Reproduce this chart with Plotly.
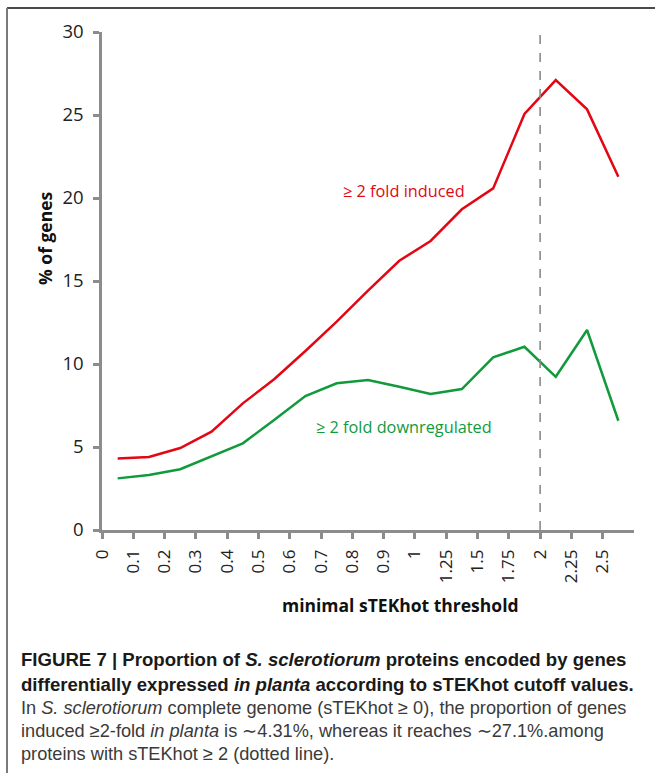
import plotly.graph_objects as go

# ---- data ----
threshold_labels = ["0", "0.1", "0.2", "0.3", "0.4", "0.5", "0.6", "0.7", "0.8", "0.9",
                    "1", "1.25", "1.5", "1.75", "2", "2.25", "2.5"]
induced = [4.31, 4.40, 4.94, 5.92, 7.63, 9.08, 10.78, 12.55, 14.42, 16.22,
           17.41, 19.32, 20.58, 25.06, 27.1, 25.34, 21.28]
downregulated = [3.11, 3.31, 3.66, 4.42, 5.22, 6.63, 8.07, 8.84, 9.04, 8.63,
                 8.19, 8.49, 10.40, 11.04, 9.23, 12.05, 6.58]
cutoff_label = "2"

# ---- layout geometry (pixels) ----
W, H = 655, 773
L, R, T, B = 102, 21, 32, 243
PW, PH = W - L - R, H - T - B


def px(x):
    return (x - L) / PW


def py(y):
    return (H - B - y) / PH


idx = list(range(len(threshold_labels)))
xpts = [i + 0.5 for i in idx]

RED = "#E30613"
GREEN = "#119A3C"
AX = "#8C8C8C"
FONT = "Open Sans"

fig = go.Figure()
fig.add_trace(go.Scatter(x=xpts, y=induced, mode="lines",
                         line=dict(color=RED, width=2.5), showlegend=False))
fig.add_trace(go.Scatter(x=xpts, y=downregulated, mode="lines",
                         line=dict(color=GREEN, width=2.5), showlegend=False))

cut_x = threshold_labels.index(cutoff_label)

shapes = [
    dict(type="line", xref="x", yref="paper", x0=cut_x, x1=cut_x, y0=0, y1=1 + 6 / PH,
         line=dict(color="#8A8A8A", width=1.6, dash="dash")),
    # figure frame
    dict(type="line", xref="paper", yref="paper", x0=px(7), x1=px(W + 2), y0=py(8), y1=py(8),
         line=dict(color="#4A4A4A", width=2)),
    dict(type="line", xref="paper", yref="paper", x0=px(7), x1=px(7), y0=py(8), y1=py(H + 2),
         line=dict(color="#7A7A7A", width=2)),
]

annotations = [
    dict(text="<b>minimal sTEKhot threshold</b>", x=px(400), y=py(605), xref="paper", yref="paper",
         showarrow=False, font=dict(family=FONT, size=17.5, color="#111"), xanchor="center", yanchor="middle"),
    dict(text="<b>% of genes</b>", x=px(45), y=py(238), xref="paper", yref="paper", textangle=-90,
         showarrow=False, font=dict(family=FONT, size=17.5, color="#111"), xanchor="center", yanchor="middle"),
    dict(text="≥ 2 fold induced", x=px(404), y=py(191), xref="paper", yref="paper",
         showarrow=False, font=dict(family=FONT, size=16.3, color=RED), xanchor="center", yanchor="middle"),
    dict(text="≥ 2 fold downregulated", x=px(404), y=py(427), xref="paper", yref="paper",
         showarrow=False, font=dict(family=FONT, size=16.3, color=GREEN), xanchor="center", yanchor="middle"),
]

caption = [
    ("<b>FIGURE 7 | Proportion of <i>S. sclerotiorum</i> proteins encoded by genes</b>", 659, "#1a1a1a", 18.6),
    ("<b>differentially expressed <i>in planta</i> according to sTEKhot cutoff values.</b>", 684, "#1a1a1a", 18.6),
    ("In <i>S. sclerotiorum</i> complete genome (sTEKhot ≥ 0), the proportion of genes", 708, "#3a3a3a", 18.2),
    ("induced ≥2-fold <i>in planta</i> is ∼4.31%, whereas it reaches ∼27.1%.among", 731, "#3a3a3a", 18.2),
    ("proteins with sTEKhot ≥ 2 (dotted line).", 754, "#3a3a3a", 18.2),
]
for txt, yy, col, fs in caption:
    annotations.append(dict(text=txt, x=px(19), y=py(yy), xref="paper", yref="paper",
                            showarrow=False, xanchor="left", yanchor="middle",
                            font=dict(family="Liberation Sans", size=fs, color=col)))

fig.update_layout(
    width=W, height=H,
    margin=dict(l=L, r=R, t=T, b=B, pad=0),
    paper_bgcolor="white", plot_bgcolor="white",
    shapes=shapes, annotations=annotations,
    xaxis=dict(range=[0, len(threshold_labels)], tickmode="array", tickvals=idx,
               ticktext=threshold_labels, tickangle=-90, showgrid=False, zeroline=False,
               showline=True, linecolor=AX, linewidth=2.5, ticks="outside", ticklen=6,
               tickwidth=2.5, tickcolor=AX, ticklabelstandoff=4,
               tickfont=dict(family=FONT, size=17, color="#222")),
    yaxis=dict(range=[0, 30], tickvals=[0, 5, 10, 15, 20, 25, 30], showgrid=False, zeroline=False,
               showline=True, linecolor=AX, linewidth=2.5, ticks="outside", ticklen=6,
               tickwidth=2.5, tickcolor=AX, ticklabelstandoff=6,
               tickfont=dict(family=FONT, size=18.5, color="#222")),
)

fig.write_html("out.html")
